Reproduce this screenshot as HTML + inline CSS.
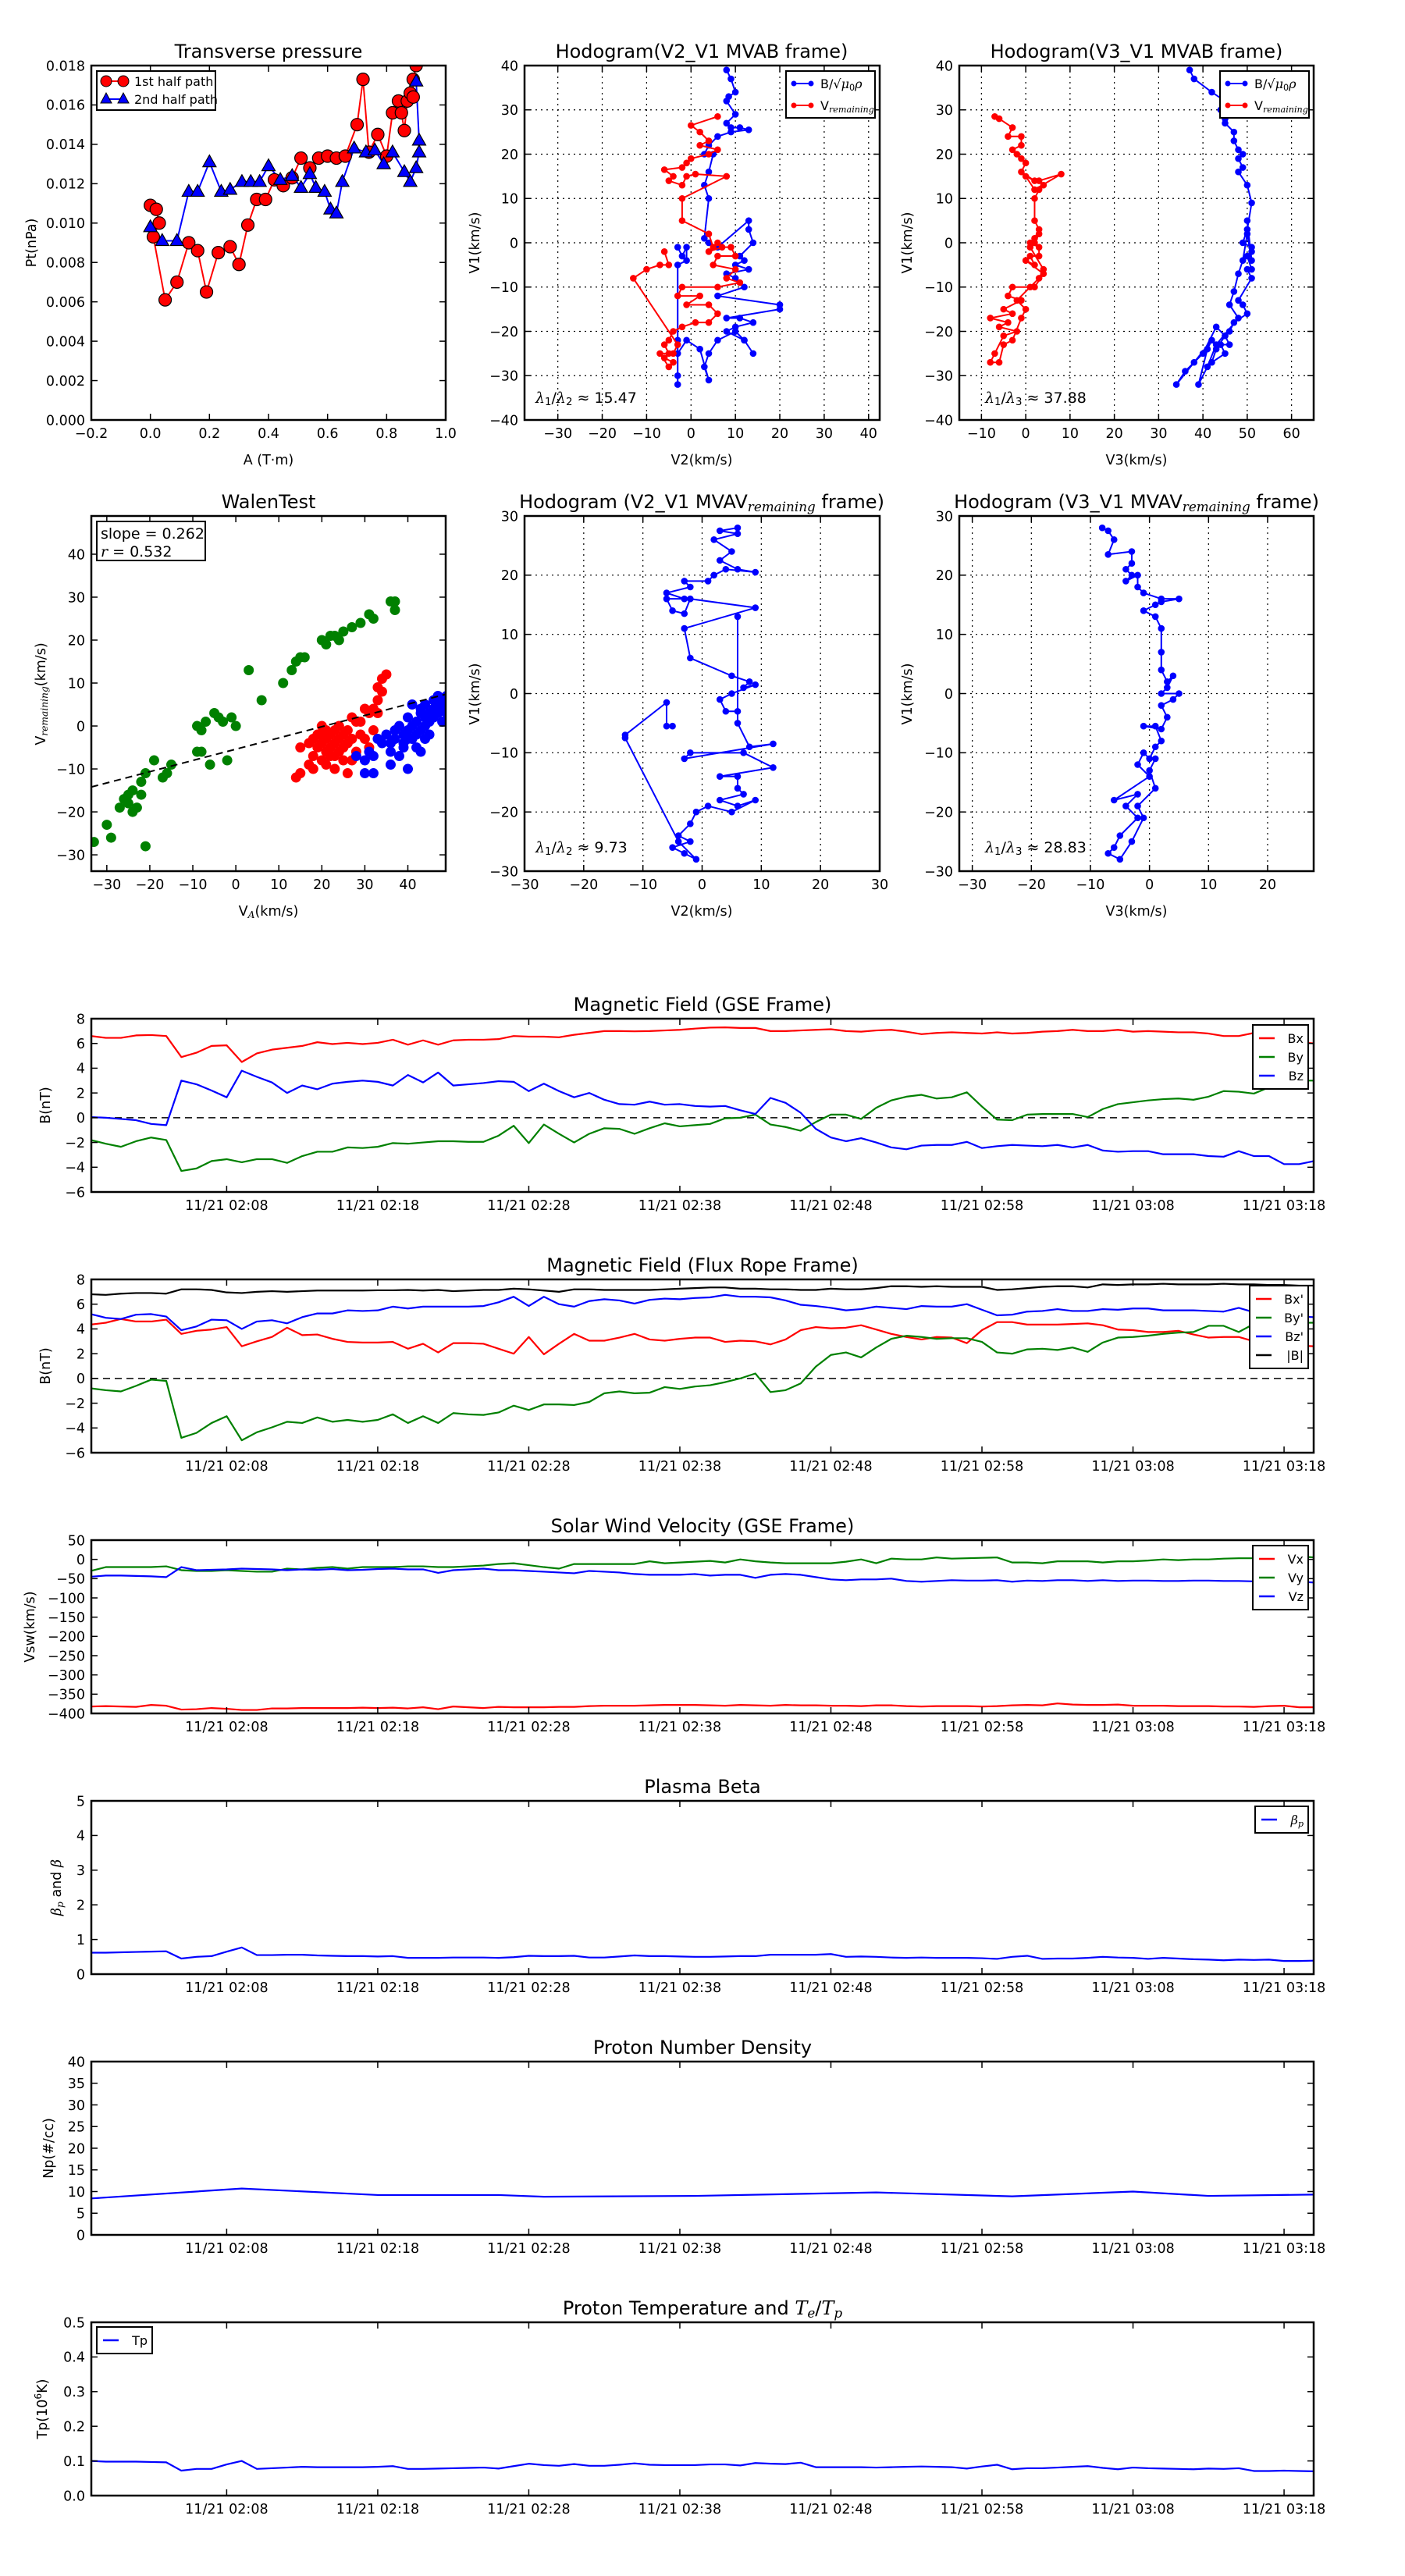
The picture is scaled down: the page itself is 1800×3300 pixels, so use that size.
<!DOCTYPE html>
<html><head><meta charset="utf-8"><title>Flux rope analysis</title>
<style>
html,body{margin:0;padding:0;background:#fff;}
svg{display:block;font-family:"DejaVu Sans","Liberation Sans",sans-serif;}
</style></head>
<body>
<svg id="fig" xmlns="http://www.w3.org/2000/svg" width="1800" height="3300" viewBox="0 0 1800 3300">
<rect x="0" y="0" width="1800" height="3300" fill="#fff"/>
<defs id="defs"></defs>
</svg>
<script>
// ---------- Time series data (1-min cadence, minutes from 01:59) ----------
const bx=[6.6,6.45,6.45,6.65,6.68,6.6,4.9,5.25,5.8,5.85,
4.5,5.2,5.5,5.65,5.8,6.1,5.95,6.05,5.95,6.05,
6.3,5.9,6.25,5.9,6.25,6.3,6.3,6.35,6.6,6.55,
6.55,6.5,6.7,6.85,7.0,7.0,6.98,7.0,7.05,7.1,
7.2,7.28,7.3,7.25,7.25,7.0,7.0,7.05,7.1,7.15,
7.0,6.95,7.05,7.1,6.95,6.75,6.85,6.9,6.85,6.8,
6.9,6.8,6.85,6.95,7.0,7.1,7.0,7.0,7.1,6.95,
7.0,6.95,6.9,6.9,6.8,6.6,6.6,6.85,6.45,6.2,
6.1,6.0];
const by=[-1.8,-2.1,-2.35,-1.9,-1.6,-1.8,-4.3,-4.1,-3.5,-3.35,
-3.6,-3.35,-3.35,-3.65,-3.1,-2.75,-2.75,-2.4,-2.45,-2.35,
-2.05,-2.1,-2.0,-1.9,-1.9,-1.95,-1.95,-1.45,-0.65,-2.05,
-0.55,-1.3,-2.0,-1.3,-0.85,-0.9,-1.3,-0.85,-0.45,-0.7,
-0.6,-0.5,-0.05,0.0,0.25,-0.55,-0.75,-1.05,-0.35,0.25,
0.25,-0.1,0.8,1.4,1.7,1.85,1.55,1.65,2.05,0.9,
-0.15,-0.2,0.25,0.3,0.3,0.3,0.05,0.7,1.1,1.25,
1.4,1.5,1.55,1.45,1.7,2.15,2.1,1.95,2.45,2.6,
3.0,3.0];
const bz=[0.05,0.0,-0.1,-0.2,-0.5,-0.6,3.0,2.7,2.2,1.65,
3.8,3.3,2.85,2.0,2.6,2.3,2.75,2.9,3.0,2.9,
2.6,3.45,2.85,3.65,2.6,2.7,2.8,2.95,2.9,2.15,
2.75,2.15,1.65,2.0,1.45,1.1,1.05,1.3,1.05,1.1,
0.95,0.9,0.95,0.6,0.3,1.6,1.2,0.4,-0.9,-1.6,
-1.9,-1.65,-2.0,-2.4,-2.55,-2.25,-2.2,-2.2,-1.95,-2.45,
-2.3,-2.2,-2.25,-2.3,-2.2,-2.4,-2.2,-2.65,-2.75,-2.7,
-2.7,-2.95,-2.95,-2.95,-3.1,-3.15,-2.7,-3.1,-3.1,-3.75,
-3.75,-3.5];
const bmag=[6.8,6.75,6.85,6.9,6.9,6.85,7.2,7.2,7.15,6.95,
6.9,7.0,7.05,7.0,7.05,7.1,7.1,7.1,7.1,7.12,
7.12,7.15,7.1,7.15,7.05,7.1,7.15,7.15,7.25,7.2,
7.1,7.0,7.2,7.2,7.15,7.15,7.15,7.15,7.2,7.25,
7.3,7.35,7.35,7.25,7.25,7.2,7.2,7.15,7.15,7.25,
7.2,7.2,7.3,7.45,7.45,7.4,7.45,7.4,7.4,7.4,
7.15,7.2,7.3,7.4,7.45,7.45,7.35,7.6,7.55,7.6,
7.6,7.65,7.6,7.6,7.6,7.65,7.6,7.6,7.55,7.55,
7.5,7.5];
const bzp=[5.2,4.9,4.8,5.15,5.2,5.0,3.9,4.2,4.75,4.7,
4.0,4.6,4.7,4.45,4.95,5.25,5.25,5.5,5.45,5.5,
5.8,5.65,5.8,5.8,5.8,5.8,5.85,6.15,6.6,5.85,
6.6,6.0,5.8,6.25,6.4,6.3,6.05,6.35,6.45,6.4,
6.5,6.55,6.75,6.6,6.6,6.55,6.3,5.95,5.85,5.7,
5.5,5.6,5.8,5.7,5.6,5.85,5.8,5.8,6.0,5.55,
5.1,5.15,5.4,5.45,5.6,5.45,5.45,5.6,5.55,5.65,
5.65,5.5,5.5,5.5,5.45,5.4,5.7,5.35,5.2,5.05,
5.0,4.95];
const bxp=[4.35,4.5,4.8,4.6,4.6,4.75,3.6,3.85,3.95,4.15,
2.6,3.0,3.35,4.1,3.5,3.55,3.2,2.95,2.9,2.9,
2.95,2.4,2.8,2.1,2.85,2.85,2.8,2.4,2.0,3.35,
1.95,2.8,3.6,3.05,3.05,3.3,3.6,3.15,3.05,3.2,
3.3,3.3,2.95,3.05,3.0,2.75,3.15,3.9,4.15,4.05,
4.1,4.3,3.95,3.6,3.35,3.15,3.35,3.3,2.85,3.9,
4.55,4.55,4.35,4.35,4.35,4.4,4.45,4.3,3.95,3.9,
3.75,3.75,3.85,3.55,3.3,3.35,3.35,3.0,2.8,2.7,
2.65,2.6];
const byp=[-0.8,-0.95,-1.05,-0.6,-0.1,-0.2,-4.8,-4.4,-3.6,-3.05,
-5.0,-4.35,-3.95,-3.5,-3.6,-3.15,-3.5,-3.35,-3.5,-3.35,
-2.9,-3.6,-3.05,-3.6,-2.8,-2.9,-2.95,-2.75,-2.2,-2.55,
-2.1,-2.1,-2.15,-1.9,-1.2,-1.05,-1.2,-1.15,-0.7,-0.85,
-0.65,-0.55,-0.3,0.0,0.4,-1.1,-0.95,-0.4,0.95,1.9,
2.1,1.7,2.5,3.2,3.45,3.35,3.2,3.25,3.25,2.95,
2.1,2.0,2.35,2.4,2.3,2.5,2.15,2.9,3.3,3.35,
3.45,3.6,3.7,3.75,4.25,4.25,3.75,4.4,4.5,4.5,
4.5,4.5];
const vx=[-382,-381,-382,-383,-378,-380,-390,-389,-386,-388,
-391,-391,-387,-387,-386,-386,-386,-386,-385,-386,
-385,-387,-384,-389,-382,-384,-386,-383,-384,-384,
-384,-383,-383,-381,-380,-380,-380,-379,-378,-378,
-378,-379,-380,-378,-379,-380,-378,-379,-379,-380,
-380,-381,-379,-379,-381,-382,-381,-381,-381,-382,
-381,-379,-378,-379,-374,-377,-378,-378,-377,-380,
-380,-380,-381,-381,-381,-382,-382,-383,-381,-380,
-384,-384];
const vy=[-30,-20,-20,-20,-20,-18,-28,-30,-30,-28,
-30,-32,-32,-24,-26,-22,-20,-24,-20,-20,
-20,-18,-18,-20,-20,-18,-16,-12,-10,-15,
-20,-24,-12,-12,-12,-12,-12,-5,-10,-8,
-6,-4,-8,0,-5,-8,-10,-10,-10,-10,
-6,0,-10,2,0,0,5,2,3,4,
5,-8,-8,-10,-5,-5,-5,-8,-5,-5,
-3,0,-2,0,0,2,3,3,2,5,
8,5];
const vz=[-45,-42,-42,-43,-44,-46,-20,-28,-27,-26,
-24,-25,-26,-28,-26,-27,-25,-28,-27,-25,
-24,-26,-26,-35,-28,-26,-24,-28,-28,-30,
-32,-34,-36,-30,-32,-34,-38,-40,-40,-40,
-38,-42,-40,-40,-48,-40,-38,-40,-46,-52,
-54,-52,-52,-50,-56,-58,-56,-54,-55,-55,
-54,-58,-55,-56,-54,-54,-56,-54,-56,-55,
-55,-56,-56,-55,-55,-56,-56,-57,-57,-55,
-58,-60];
const betaP=[0.62,0.62,0.63,0.64,0.65,0.66,0.45,0.5,0.52,0.65,
0.77,0.55,0.55,0.56,0.56,0.54,0.53,0.52,0.52,0.51,
0.52,0.47,0.47,0.47,0.48,0.48,0.48,0.47,0.49,0.53,
0.52,0.52,0.53,0.48,0.48,0.51,0.54,0.52,0.52,0.51,
0.5,0.5,0.51,0.52,0.52,0.56,0.56,0.56,0.56,0.58,
0.5,0.51,0.5,0.48,0.47,0.48,0.47,0.47,0.47,0.46,
0.44,0.5,0.53,0.44,0.45,0.45,0.47,0.5,0.48,0.47,
0.44,0.47,0.45,0.43,0.42,0.4,0.42,0.41,0.42,0.38,
0.38,0.39];
const npTimes=[0,10,19,27,30,40,52,61,69,74,81];
const npVals=[8.4,10.7,9.2,9.2,8.8,9.0,9.8,8.9,10.0,9.0,9.3];
const tp=[0.1,0.098,0.098,0.098,0.097,0.096,0.072,0.077,0.077,0.09,
0.1,0.077,0.079,0.081,0.083,0.082,0.082,0.082,0.082,0.083,
0.085,0.077,0.077,0.078,0.079,0.08,0.081,0.078,0.085,0.092,
0.088,0.086,0.091,0.086,0.086,0.089,0.093,0.089,0.088,0.088,
0.088,0.09,0.09,0.087,0.094,0.092,0.091,0.095,0.082,0.082,
0.082,0.082,0.081,0.082,0.083,0.084,0.083,0.082,0.078,0.084,
0.089,0.076,0.079,0.079,0.081,0.083,0.085,0.08,0.076,0.081,
0.079,0.078,0.077,0.076,0.078,0.077,0.079,0.071,0.071,0.072,
0.071,0.07];
const timeTicks=[9,19,29,39,49,59,69,79];
const timeTickLabels=["11/21 02:08","11/21 02:18","11/21 02:28","11/21 02:38","11/21 02:48","11/21 02:58","11/21 03:08","11/21 03:18"];

// ---------- Transverse pressure ----------
const ptA1=[0.0,0.02,0.03,0.01,0.05,0.09,0.13,0.16,0.19,0.23,0.27,0.30,0.33,0.36,0.39,0.42,0.45,0.48,0.51,0.54,0.57,0.60,0.63,0.66,0.70,0.72,0.74,0.77,0.80,0.82,0.84,0.85,0.86,0.87,0.88,0.89,0.89,0.90];
const ptP1=[0.0109,0.0107,0.0100,0.0093,0.0061,0.0070,0.0090,0.0086,0.0065,0.0085,0.0088,0.0079,0.0099,0.0112,0.0112,0.0122,0.0119,0.0123,0.0133,0.0128,0.0133,0.0134,0.0133,0.0134,0.0150,0.0173,0.0136,0.0145,0.0134,0.0156,0.0162,0.0156,0.0147,0.0162,0.0166,0.0164,0.0173,0.0180];
const ptA2=[0.0,0.04,0.09,0.13,0.16,0.20,0.24,0.27,0.31,0.34,0.37,0.40,0.44,0.48,0.51,0.54,0.56,0.59,0.61,0.63,0.65,0.69,0.73,0.76,0.79,0.82,0.86,0.88,0.90,0.91,0.91,0.90];
const ptP2=[0.0098,0.0091,0.0091,0.0116,0.0116,0.0131,0.0116,0.0117,0.0121,0.0121,0.0121,0.0129,0.0122,0.0124,0.0118,0.0125,0.0118,0.0116,0.0107,0.0105,0.0121,0.0138,0.0136,0.0137,0.0130,0.0136,0.0126,0.0121,0.0128,0.0136,0.0142,0.0172];
const ptXTicks=[-0.2,0,0.2,0.4,0.6,0.8,1.0];
const ptYTicks=[0,0.002,0.004,0.006,0.008,0.010,0.012,0.014,0.016,0.018];

// ---------- Hodogram MVAB (V2,V1) ----------
const h1B=[[8,39],[9,37],[10,34],[8.5,33],[8,32],[10,29],[8,27],[9,26],[11,26],[13,25.5],[9,25],[6,24],[4,22],[3,20],[5,20],[4,16],[3,13],[4,10],[3,1],[4,0],[6,-1],[13,5],[13,3],[14,0],[11,-3],[12,-4],[10,-5],[13,-6],[8,-7],[10,-8],[12,-10],[6,-12],[20,-14],[20,-15],[8,-17],[11,-17],[14,-18],[10,-19],[8,-20],[12,-22],[14,-25],[12,-22],[10,-20],[6,-22],[4,-25],[3,-28],[4,-31],[2,-24],[-1,-22],[-3,-25],[-3,-30],[-3,-32],[-3,-22],[-3,-5],[-1,-4],[-1,-1],[-2,-3],[-3,-1]];
const h1V=[[6,28.5],[0,26.5],[2,25],[4,23],[2,22],[6,21],[4,20],[0,19],[-1,18],[-2,17],[-6,16.5],[-4,15],[-5,14],[-2,13],[-1,15],[1,15.5],[8,15],[-2,10],[-2,5],[4,2],[5,-1],[6,0],[4,-2],[7,-1],[9,-1],[10,-3],[6,-3],[5,-5],[10,-6],[8,-8],[11,-9],[6,-10],[-2,-10],[-3,-12],[2,-12],[-1,-14],[4,-14],[6,-16],[4,-18],[1,-18],[-2,-19],[-4,-20],[-5,-22],[-6,-23],[-5,-25],[-6,-26],[-4,-27],[-5,-28],[-7,-25],[-4,-25],[-3,-23],[-13,-8],[-10,-6],[-7,-5],[-5,-5],[-6,-2]];
// ---------- Hodogram MVAB (V3,V1) ----------
const h2B=[[37,39],[38,37],[42,34],[45,32],[44,30],[45,28],[45,27],[47,25],[47,23],[48,21],[49,20],[48,19],[49,17],[48,16],[50,13],[51,9],[50,3],[49,0],[51,-1],[51,-2],[50,-3],[51,-6],[50,-6],[51,-8],[48,-13],[49,-14],[50,-16],[47,-18],[46,-20],[45,-21],[46,-23],[44,-23],[45,-25],[42,-27],[43,-24],[45,-21],[43,-19],[40,-25],[36,-29],[34,-32],[38,-27],[42,-22],[41,-24],[39,-32],[41,-28],[43,-23],[48,-17],[46,-14],[47,-11],[48,-7],[49,-4],[50,2],[51,-4],[50,5]];
const h2V=[[-7,28.5],[-6,28],[-3,26],[-4,24],[-1,24],[-1,22],[-3,21],[-2,20],[-1,19],[0,18],[-1,16],[2,14],[0,15],[2,12],[8,15.5],[3,14],[4,13],[3,12],[2,10],[2,5],[3,3],[2,1],[1,0],[3,-1],[3,-3],[1,-3],[2,-5],[0,-4],[4,-7],[2,-10],[-3,-10],[-4,-12],[-1,-13],[-5,-15],[-3,-16],[-8,-17],[-4,-18],[-6,-19],[-2,-20],[-5,-21],[-7,-25],[-8,-27],[-6,-27],[-5,-23],[-3,-22],[-1,-17],[0,-15],[-2,-13],[1,-10],[3,-8],[4,-6],[1,-1],[2,0],[3,2]];
// ---------- Hodogram MVAV (V2,V1) ----------
const h3V=[[6,28],[3,27.5],[6,27],[2,26],[5,24],[3,22.5],[6,21],[9,20.5],[4,21],[2,20],[1,19],[-3,19],[-2,18],[-6,17],[-3,16],[-6,16],[-5,14],[-3,13.5],[-2,16],[9,14.5],[-3,11],[-2,6],[5,3],[8,2],[7,1],[9,1.5],[5,0],[3,-1],[4,-3],[6,-3],[6,13],[6,-5],[8,-9],[12,-8.5],[-3,-11],[-2,-10],[7,-10],[12,-12.5],[3,-14],[6,-14],[6,-16],[7,-17],[3,-18],[6,-19],[9,-18],[5,-20],[1,-19],[-1,-20],[-2,-22],[-4,-24],[-2,-25],[-5,-26],[-3,-27],[-1,-28],[-4,-25],[-13,-7.5],[-13,-7],[-6,-1.5],[-6,-5.5],[-5,-5.5]];
// ---------- Hodogram MVAV (V3,V1) ----------
const h4V=[[-8,28],[-7,27.5],[-6,26],[-7,23.5],[-3,24],[-3,22],[-4,21],[-3,20],[-4,19],[-2,20],[-2,18],[-1,17],[2,16],[5,16],[2,15.5],[1,15],[-1,14],[1,13],[2,11],[2,7],[2,4],[3,2],[4,3],[3,1],[2,0],[5,0],[4,-1],[2,-2],[3,-4],[2,-6],[-1,-5.5],[1,-5.5],[2,-8],[1,-9],[0,-11],[-1,-10],[-2,-12],[0,-14],[-6,-18],[-2,-17],[-4,-19],[-2,-21],[-5,-24],[-6,-26],[-7,-27],[-5,-28],[-3,-25],[-1,-21],[-2,-19],[1,-16],[0,-13],[1,-11]];

// ---------- Walen test ----------
const walenGreen=[[-33,-27],[-30,-23],[-29,-26],[-27,-19],[-26,-17],[-25,-18],[-25,-16],[-24,-20],[-24,-15],[-23,-19],[-22,-13],[-22,-16],[-21,-28],[-21,-11],[-19,-8],[-17,-12],[-16,-11],[-15,-9],[-9,-6],[-9,0],[-8,-1],[-8,-6],[-7,1],[-6,-9],[-5,3],[-4,2],[-3,1],[-2,-8],[-1,2],[0,0],[3,13],[6,6],[11,10],[13,13],[14,15],[15,16],[16,16],[20,20],[21,19],[22,21],[23,21],[24,20],[25,22],[27,23],[29,24],[31,26],[32,25],[36,29],[37,29],[37,27]];
const walenRed=[[14,-12],[15,-11],[15,-5],[17,-4],[17,-9],[18,-3],[18,-7],[19,-2],[19,-5],[20,0],[20,-4],[20,-8],[21,-1],[21,-3],[21,-6],[21,-9],[22,-2],[22,-5],[22,-7],[23,-1],[23,-4],[23,-10],[24,0],[24,-3],[24,-6],[25,-2],[25,-5],[25,-8],[26,-1],[26,-4],[26,-11],[27,2],[27,-3],[28,1],[28,-6],[29,-2],[30,4],[30,-3],[31,3],[31,-5],[32,4],[32,-1],[33,6],[33,9],[33,3],[34,11],[34,8],[35,12],[29,1],[27,-8],[20,-2],[18,-10],[23,-7]];
const walenBlue=[[28,-7],[30,-8],[30,-11],[31,-6],[32,-11],[33,-3],[34,-4],[35,-2],[36,-4],[36,-6],[37,-1],[37,-3],[38,-7],[38,0],[39,-2],[39,-4],[40,-1],[40,-10],[40,2],[41,-3],[41,0],[41,5],[42,-2],[42,1],[42,-5],[43,3],[43,-1],[43,4],[44,0],[44,2],[44,5],[45,-2],[45,3],[45,1],[46,4],[46,6],[46,2],[47,3],[47,7],[47,5],[48,4],[48,1],[48,6],[49,7],[49,3],[32,-7],[36,-9],[39,-5],[43,-6],[40,-3],[44,-3]];
const walenSlope=0.262;
const walenIntercept=-5.4;

// ---------- drawing helpers ----------
const NS='http://www.w3.org/2000/svg';
const svg=document.getElementById('fig');
const defs=document.getElementById('defs');
const FT=17.5;
function mk(tag,name,parent){
  const e=document.createElementNS(NS,tag);
  
  
  (parent||svg).appendChild(e);
  return e;
}
function at(e,o){for(const k in o)e.setAttribute(k,o[k]);return e;}
function txt(parent,name,x,y,s,size,anchor,extra){
  const t=mk('text',name,parent);
  at(t,{x:x,y:y,'font-size':size,'text-anchor':anchor||'middle',fill:'#000'});
  if(extra)at(t,extra);
  t.textContent=s;return t;
}
// parts: [text, style] style '', 'sub', 'it', 'subit'
function rich(parent,name,x,y,size,anchor,parts,extra){
  const t=mk('text',name,parent);
  at(t,{x:x,y:y,'font-size':size,'text-anchor':anchor||'middle',fill:'#000'});
  if(extra)at(t,extra);
  parts.forEach(p=>{
    const s=document.createElementNS(NS,'tspan');
    s.textContent=p[0];
    if(p[1].indexOf('it')>=0){s.setAttribute('font-style','italic');s.setAttribute('font-family','"DejaVu Serif","Liberation Serif",serif');}
    if(p[1].indexOf('sub')>=0){s.setAttribute('font-size',size*0.7);s.setAttribute('baseline-shift','-25%');}
    if(p[1].indexOf('sup')>=0){s.setAttribute('font-size',size*0.7);s.setAttribute('baseline-shift','super');}
    t.appendChild(s);
  });
  return t;
}
function fmt(v,d){const s=Math.abs(v).toFixed(d);return (v<-1e-12?'\u2212':'')+s;}
let clipN=0;
function makeAxes(name,X,Y,Wd,Ht,xlim,ylim){
  const g=mk('g',name);
  const sx=v=>X+(v-xlim[0])/(xlim[1]-xlim[0])*Wd;
  const sy=v=>Y+Ht-(v-ylim[0])/(ylim[1]-ylim[0])*Ht;
  const id='clip'+(clipN++);
  const cp=document.createElementNS(NS,'clipPath');cp.setAttribute('id',id);
  const r=document.createElementNS(NS,'rect');at(r,{x:X,y:Y,width:Wd,height:Ht});cp.appendChild(r);defs.appendChild(cp);
  const plot=mk('g',name+'-plot-area',g);plot.setAttribute('clip-path','url(#'+id+')');
  return {g,plot,sx,sy,X,Y,Wd,Ht,xlim,ylim};
}
function frame(ax){
  const r=mk('rect','axes-frame',ax.g);
  at(r,{x:ax.X,y:ax.Y,width:ax.Wd,height:ax.Ht,fill:'none',stroke:'#000','stroke-width':2.5});
}
function yTicks(ax,vals,labels,grid){
  const g=mk('g','y-axis',ax.g);
  vals.forEach((v,i)=>{
    const y=ax.sy(v);
    if(grid){const gl=mk('line','y-grid-line',ax.plot);at(gl,{x1:ax.X,x2:ax.X+ax.Wd,y1:y,y2:y,stroke:'#000','stroke-width':1.2,'stroke-dasharray':'2,5'});}
    const t1=mk('line','y-tick',g);at(t1,{x1:ax.X,x2:ax.X+8,y1:y,y2:y,stroke:'#000','stroke-width':1.5});
    const t2=mk('line','y-tick',g);at(t2,{x1:ax.X+ax.Wd-8,x2:ax.X+ax.Wd,y1:y,y2:y,stroke:'#000','stroke-width':1.5});
    txt(g,'y-tick-label',ax.X-8,y+FT*0.36,labels[i],FT,'end');
  });
}
function xTicks(ax,vals,labels,grid){
  const g=mk('g','x-axis',ax.g);
  vals.forEach((v,i)=>{
    const x=ax.sx(v);
    if(grid){const gl=mk('line','x-grid-line',ax.plot);at(gl,{x1:x,x2:x,y1:ax.Y,y2:ax.Y+ax.Ht,stroke:'#000','stroke-width':1.2,'stroke-dasharray':'2,5'});}
    const t1=mk('line','x-tick',g);at(t1,{x1:x,x2:x,y1:ax.Y+ax.Ht,y2:ax.Y+ax.Ht-8,stroke:'#000','stroke-width':1.5});
    const t2=mk('line','x-tick',g);at(t2,{x1:x,x2:x,y1:ax.Y,y2:ax.Y+8,stroke:'#000','stroke-width':1.5});
    txt(g,'x-tick-label',x,ax.Y+ax.Ht+8+FT*0.85,labels[i],FT,'middle');
  });
}
function series(ax,name,xs,ys,color,w){
  let d='';
  for(let i=0;i<xs.length&&i<ys.length;i++){d+=(i?'L':'M')+ax.sx(xs[i]).toFixed(2)+','+ax.sy(ys[i]).toFixed(2);}
  const p=mk('path',name,ax.plot);
  at(p,{d:d,fill:'none',stroke:color,'stroke-width':w||2.2,'stroke-linejoin':'round'});
  return p;
}
function pairSeries(ax,name,pts,color,r){
  series(ax,name+'-line',pts.map(p=>p[0]),pts.map(p=>p[1]),color,2);
  const g=mk('g',name+'-markers',ax.plot);
  pts.forEach(p=>{const c=mk('circle',name+'-point',g);at(c,{cx:ax.sx(p[0]),cy:ax.sy(p[1]),r:r,fill:color,stroke:color});});
}
function legendBox(parent,name,x,y,w,h){
  const g=mk('g',name,parent);
  const r=mk('rect','legend-frame',g);at(r,{x:x,y:y,width:w,height:h,fill:'#fff',stroke:'#000','stroke-width':2});
  return g;
}
function ticksRange(a,b,s){const o=[];for(let v=a;v<=b+1e-9;v+=s)o.push(Math.round(v*1e6)/1e6);return o;}

// ---------- Panel 1: Transverse pressure ----------
(function(){
  const ax=makeAxes('transverse-pressure-chart',117,84,454,454,[-0.2,1.0],[0,0.018]);
  yTicks(ax,ptYTicks,ptYTicks.map(v=>v.toFixed(3)),false);
  xTicks(ax,ptXTicks,ptXTicks.map(v=>fmt(v,1)),false);
  series(ax,'first-half-path-line',ptA1,ptP1,'#f00',2);
  series(ax,'second-half-path-line',ptA2,ptP2,'#00f',2);
  const g1=mk('g','first-half-markers',ax.plot);
  ptA1.forEach((a,i)=>{const c=mk('circle','first-half-point',g1);at(c,{cx:ax.sx(a),cy:ax.sy(ptP1[i]),r:8,fill:'#f00',stroke:'#000','stroke-width':1.2});});
  const g2=mk('g','second-half-markers',ax.plot);
  ptA2.forEach((a,i)=>{const x=ax.sx(a),y=ax.sy(ptP2[i]);const p=mk('polygon','second-half-point',g2);at(p,{points:`${x},${y-9} ${x-8.5},${y+6} ${x+8.5},${y+6}`,fill:'#00f',stroke:'#000','stroke-width':1.2});});
  frame(ax);
  txt(ax.g,'chart-title',344,74,'Transverse pressure',24);
  txt(ax.g,'x-axis-title',344,595,'A (T\u00b7m)',17.5);
  txt(ax.g,'y-axis-title',46,311,'Pt(nPa)',17.5,'middle',{transform:'rotate(-90 46 311)'});
  const lg=legendBox(ax.g,'legend',124,91,152,50);
  const l1=mk('line','legend-line',lg);at(l1,{x1:136,x2:158,y1:104,y2:104,stroke:'#f00','stroke-width':2});
  [136,158].forEach(cx=>{const c=mk('circle','legend-marker',lg);at(c,{cx:cx,cy:104,r:7,fill:'#f00',stroke:'#000'});});
  txt(lg,'legend-label',172,110,'1st half path',16,'start');
  const l2=mk('line','legend-line',lg);at(l2,{x1:136,x2:158,y1:127,y2:127,stroke:'#00f','stroke-width':2});
  [136,158].forEach(cx=>{const p=mk('polygon','legend-marker',lg);at(p,{points:`${cx},${119} ${cx-7},${132} ${cx+7},${132}`,fill:'#00f',stroke:'#000'});});
  txt(lg,'legend-label',172,133,'2nd half path',16,'start');
})();

function hodoLegend(ax,x,y){
  const lg=legendBox(ax.g,'legend',x,y,114,60);
  const l1=mk('line','legend-line',lg);at(l1,{x1:x+10,x2:x+32,y1:y+16,y2:y+16,stroke:'#00f','stroke-width':2});
  [x+10,x+32].forEach(cx=>{const c=mk('circle','legend-marker',lg);at(c,{cx:cx,cy:y+16,r:3.5,fill:'#00f'});});
  rich(lg,'legend-label',x+44,y+22,16,'start',[['B/\u221a','']  ,['\u03bc','it'],['0','sub'],['\u03c1','it']]);
  const l2=mk('line','legend-line',lg);at(l2,{x1:x+10,x2:x+32,y1:y+44,y2:y+44,stroke:'#f00','stroke-width':2});
  [x+10,x+32].forEach(cx=>{const c=mk('circle','legend-marker',lg);at(c,{cx:cx,cy:y+44,r:3.5,fill:'#f00'});});
  rich(lg,'legend-label',x+44,y+50,16,'start',[['V',''],['remaining','subit']]);
}
function lambdaText(ax,x,y,den,val){
  rich(ax.g,'eigenvalue-ratio',x,y,19,'start',[['\u03bb','it'],['1','sub'],['/',''],['\u03bb','it'],[den,'sub'],[' \u2248 '+val,'']]);
}

// ---------- Panel 2: Hodogram V2-V1 MVAB ----------
(function(){
  const ax=makeAxes('hodogram-v2-v1-mvab',672,84,455,454,[-37.5,42.5],[-40,40]);
  const xt=ticksRange(-30,40,10), yt=ticksRange(-40,40,10);
  yTicks(ax,yt,yt.map(v=>fmt(v,0)),true);
  xTicks(ax,xt,xt.map(v=>fmt(v,0)),true);
  pairSeries(ax,'b-series',h1B,'#00f',3.8);
  pairSeries(ax,'v-remaining-series',h1V,'#f00',3.8);
  frame(ax);
  hodoLegend(ax,1007,91);
  lambdaText(ax,686,516,'2','15.47');
  txt(ax.g,'chart-title',899,74,'Hodogram(V2_V1 MVAB frame)',24);
  txt(ax.g,'x-axis-title',899,595,'V2(km/s)',17.5);
  txt(ax.g,'y-axis-title',614,311,'V1(km/s)',17.5,'middle',{transform:'rotate(-90 614 311)'});
})();

// ---------- Panel 3: Hodogram V3-V1 MVAB ----------
(function(){
  const ax=makeAxes('hodogram-v3-v1-mvab',1229,84,454,454,[-15,65],[-40,40]);
  const xt=ticksRange(-10,60,10), yt=ticksRange(-40,40,10);
  yTicks(ax,yt,yt.map(v=>fmt(v,0)),true);
  xTicks(ax,xt,xt.map(v=>fmt(v,0)),true);
  pairSeries(ax,'b-series',h2B,'#00f',3.8);
  pairSeries(ax,'v-remaining-series',h2V,'#f00',3.8);
  frame(ax);
  hodoLegend(ax,1563,91);
  lambdaText(ax,1262,516,'3','37.88');
  txt(ax.g,'chart-title',1456,74,'Hodogram(V3_V1 MVAB frame)',24);
  txt(ax.g,'x-axis-title',1456,595,'V3(km/s)',17.5);
  txt(ax.g,'y-axis-title',1168,311,'V1(km/s)',17.5,'middle',{transform:'rotate(-90 1168 311)'});
})();

// ---------- Panel 4: Walen test ----------
(function(){
  const ax=makeAxes('walen-test-chart',117,661,454,455,[-33.6,48.8],[-33.8,48.9]);
  const xt=ticksRange(-30,40,10), yt=ticksRange(-30,40,10);
  yTicks(ax,yt,yt.map(v=>fmt(v,0)),false);
  xTicks(ax,xt,xt.map(v=>fmt(v,0)),false);
  [[walenGreen,'#008000','green-scatter'],[walenRed,'#f00','red-scatter'],[walenBlue,'#00f','blue-scatter']].forEach(s=>{
    const g=mk('g',s[2],ax.plot);
    s[0].forEach(p=>{const c=mk('circle','scatter-point',g);at(c,{cx:ax.sx(p[0]),cy:ax.sy(p[1]),r:6.5,fill:s[1]});});
  });
  const x0=ax.xlim[0],x1=ax.xlim[1];
  const fit=mk('line','fit-line',ax.plot);
  at(fit,{x1:ax.sx(x0),y1:ax.sy(walenIntercept+walenSlope*x0),x2:ax.sx(x1),y2:ax.sy(walenIntercept+walenSlope*x1),stroke:'#000','stroke-width':2,'stroke-dasharray':'9,6'});
  frame(ax);
  const bx_=mk('rect','stats-box',ax.g);at(bx_,{x:124,y:668,width:139,height:50,fill:'#fff',stroke:'#000','stroke-width':2});
  txt(ax.g,'slope-text',129,690,'slope = '+walenSlope.toFixed(3),19,'start');
  rich(ax.g,'r-text',129,713,19,'start',[['r','it'],[' = 0.532','']]);
  txt(ax.g,'chart-title',344,651,'WalenTest',24);
  rich(ax.g,'x-axis-title',344,1173,17.5,'middle',[['V',''],['A','subit'],['(km/s)','']]);
  rich(ax.g,'y-axis-title',58,889,17.5,'middle',[['V',''],['remaining','subit'],['(km/s)','']],{transform:'rotate(-90 58 889)'});
})();

// ---------- Panel 5: Hodogram V2-V1 MVAV ----------
(function(){
  const ax=makeAxes('hodogram-v2-v1-mvav',672,661,455,455,[-30,30],[-30,30]);
  const xt=ticksRange(-30,30,10), yt=ticksRange(-30,30,10);
  yTicks(ax,yt,yt.map(v=>fmt(v,0)),true);
  xTicks(ax,xt,xt.map(v=>fmt(v,0)),true);
  pairSeries(ax,'v-series',h3V,'#00f',3.8);
  frame(ax);
  lambdaText(ax,686,1092,'2','9.73');
  rich(ax.g,'chart-title',899,651,24,'middle',[['Hodogram (V2_V1 MVAV',''],['remaining','subit'],[' frame)','']]);
  txt(ax.g,'x-axis-title',899,1173,'V2(km/s)',17.5);
  txt(ax.g,'y-axis-title',614,889,'V1(km/s)',17.5,'middle',{transform:'rotate(-90 614 889)'});
})();

// ---------- Panel 6: Hodogram V3-V1 MVAV ----------
(function(){
  const ax=makeAxes('hodogram-v3-v1-mvav',1229,661,454,455,[-32.2,27.8],[-30,30]);
  const xt=ticksRange(-30,20,10), yt=ticksRange(-30,30,10);
  yTicks(ax,yt,yt.map(v=>fmt(v,0)),true);
  xTicks(ax,xt,xt.map(v=>fmt(v,0)),true);
  pairSeries(ax,'v-series',h4V,'#00f',3.8);
  frame(ax);
  lambdaText(ax,1262,1092,'3','28.83');
  rich(ax.g,'chart-title',1456,651,24,'middle',[['Hodogram (V3_V1 MVAV',''],['remaining','subit'],[' frame)','']]);
  txt(ax.g,'x-axis-title',1456,1173,'V3(km/s)',17.5);
  txt(ax.g,'y-axis-title',1168,889,'V1(km/s)',17.5,'middle',{transform:'rotate(-90 1168 889)'});
})();

// ---------- Time series panels ----------
const TX=117,TW=1566,TH=222,TLIM=[0.04,80.96];
const tIdx=bx.map((v,i)=>i);
function timePanel(name,top,ylim,yt,ylab,title,dec){
  const ax=makeAxes(name,TX,top,TW,TH,TLIM,ylim);
  yTicks(ax,yt,yt.map(v=>fmt(v,dec)),false);
  xTicks(ax,timeTicks,timeTickLabels,false);
  txt(ax.g,'chart-title',900,top-12,'',24).remove();
  return ax;
}
function tLegend(ax,x,y,w,entries){
  const lg=legendBox(ax.g,'legend',x,y,w,10+entries.length*24);
  entries.forEach((e,i)=>{
    const yy=y+17+i*24;
    const l=mk('line','legend-line',lg);at(l,{x1:x+8,x2:x+28,y1:yy,y2:yy,stroke:e[1],'stroke-width':2.5});
    if(typeof e[0]==='string')txt(lg,'legend-label',x+w-6,yy+6,e[0],16,'end');
    else rich(lg,'legend-label',x+w-6,yy+6,16,'end',e[0]);
  });
}
function zeroLine(ax){const z=mk('line','zero-line',ax.plot);at(z,{x1:ax.X,x2:ax.X+ax.Wd,y1:ax.sy(0),y2:ax.sy(0),stroke:'#000','stroke-width':1.5,'stroke-dasharray':'9,6'});}

(function(){
  const ax=timePanel('magnetic-field-gse-chart',1305,[-6,8],ticksRange(-6,8,2),'B(nT)','',0);
  zeroLine(ax);
  series(ax,'bx-line',tIdx,bx,'#f00');
  series(ax,'by-line',tIdx,by,'#008000');
  series(ax,'bz-line',tIdx,bz,'#00f');
  frame(ax);
  tLegend(ax,1605,1313,71,[['Bx','#f00'],['By','#008000'],['Bz','#00f']]);
  txt(ax.g,'chart-title',900,1295,'Magnetic Field (GSE Frame)',24);
  txt(ax.g,'y-axis-title',64,1416,'B(nT)',17.5,'middle',{transform:'rotate(-90 64 1416)'});
})();
(function(){
  const ax=timePanel('magnetic-field-flux-rope-chart',1639,[-6,8],ticksRange(-6,8,2),'B(nT)','',0);
  zeroLine(ax);
  series(ax,'bx-prime-line',tIdx,bxp,'#f00');
  series(ax,'by-prime-line',tIdx,byp,'#008000');
  series(ax,'bz-prime-line',tIdx,bzp,'#00f');
  series(ax,'b-magnitude-line',tIdx,bmag,'#000');
  frame(ax);
  tLegend(ax,1601,1647,75,[["Bx'",'#f00'],["By'",'#008000'],["Bz'",'#00f'],['|B|','#000']]);
  txt(ax.g,'chart-title',900,1629,'Magnetic Field (Flux Rope Frame)',24);
  txt(ax.g,'y-axis-title',64,1750,'B(nT)',17.5,'middle',{transform:'rotate(-90 64 1750)'});
})();
(function(){
  const ax=timePanel('solar-wind-velocity-chart',1973,[-400,50],ticksRange(-400,50,50),'','',0);
  series(ax,'vx-line',tIdx,vx,'#f00');
  series(ax,'vy-line',tIdx,vy,'#008000');
  series(ax,'vz-line',tIdx,vz,'#00f');
  frame(ax);
  tLegend(ax,1605,1980,71,[['Vx','#f00'],['Vy','#008000'],['Vz','#00f']]);
  txt(ax.g,'chart-title',900,1963,'Solar Wind Velocity (GSE Frame)',24);
  txt(ax.g,'y-axis-title',44,2084,'Vsw(km/s)',17.5,'middle',{transform:'rotate(-90 44 2084)'});
})();
(function(){
  const ax=timePanel('plasma-beta-chart',2307,[0,5],ticksRange(0,5,1),'','',0);
  series(ax,'beta-p-line',tIdx,betaP,'#00f');
  frame(ax);
  tLegend(ax,1608,2314,68,[[[['\u03b2','it'],['p','subit']],'#00f']]);
  txt(ax.g,'chart-title',900,2297,'Plasma Beta',24);
  rich(ax.g,'y-axis-title',78,2418,17.5,'middle',[['\u03b2','it'],['p','subit'],[' and ',''],['\u03b2','it']],{transform:'rotate(-90 78 2418)'});
})();
(function(){
  const ax=timePanel('proton-density-chart',2641,[0,40],ticksRange(0,40,5),'','',0);
  series(ax,'np-line',npTimes,npVals,'#00f');
  frame(ax);
  txt(ax.g,'chart-title',900,2631,'Proton Number Density',24);
  txt(ax.g,'y-axis-title',68,2752,'Np(#/cc)',17.5,'middle',{transform:'rotate(-90 68 2752)'});
})();
(function(){
  const ax=timePanel('proton-temperature-chart',2975,[0,0.5],ticksRange(0,0.5,0.1),'','',1);
  series(ax,'tp-line',tIdx,tp,'#00f');
  frame(ax);
  tLegend(ax,124,2981,71,[['Tp','#00f']]);
  rich(ax.g,'chart-title',900,2965,24,'middle',[['Proton Temperature and ',''],['T','it'],['e','subit'],['/',''],['T','it'],['p','subit']]);
  rich(ax.g,'y-axis-title',60,3086,17.5,'middle',[['Tp(10',''],['6','sup'],['K)','']],{transform:'rotate(-90 60 3086)'});
})();
</script>
</body></html>
